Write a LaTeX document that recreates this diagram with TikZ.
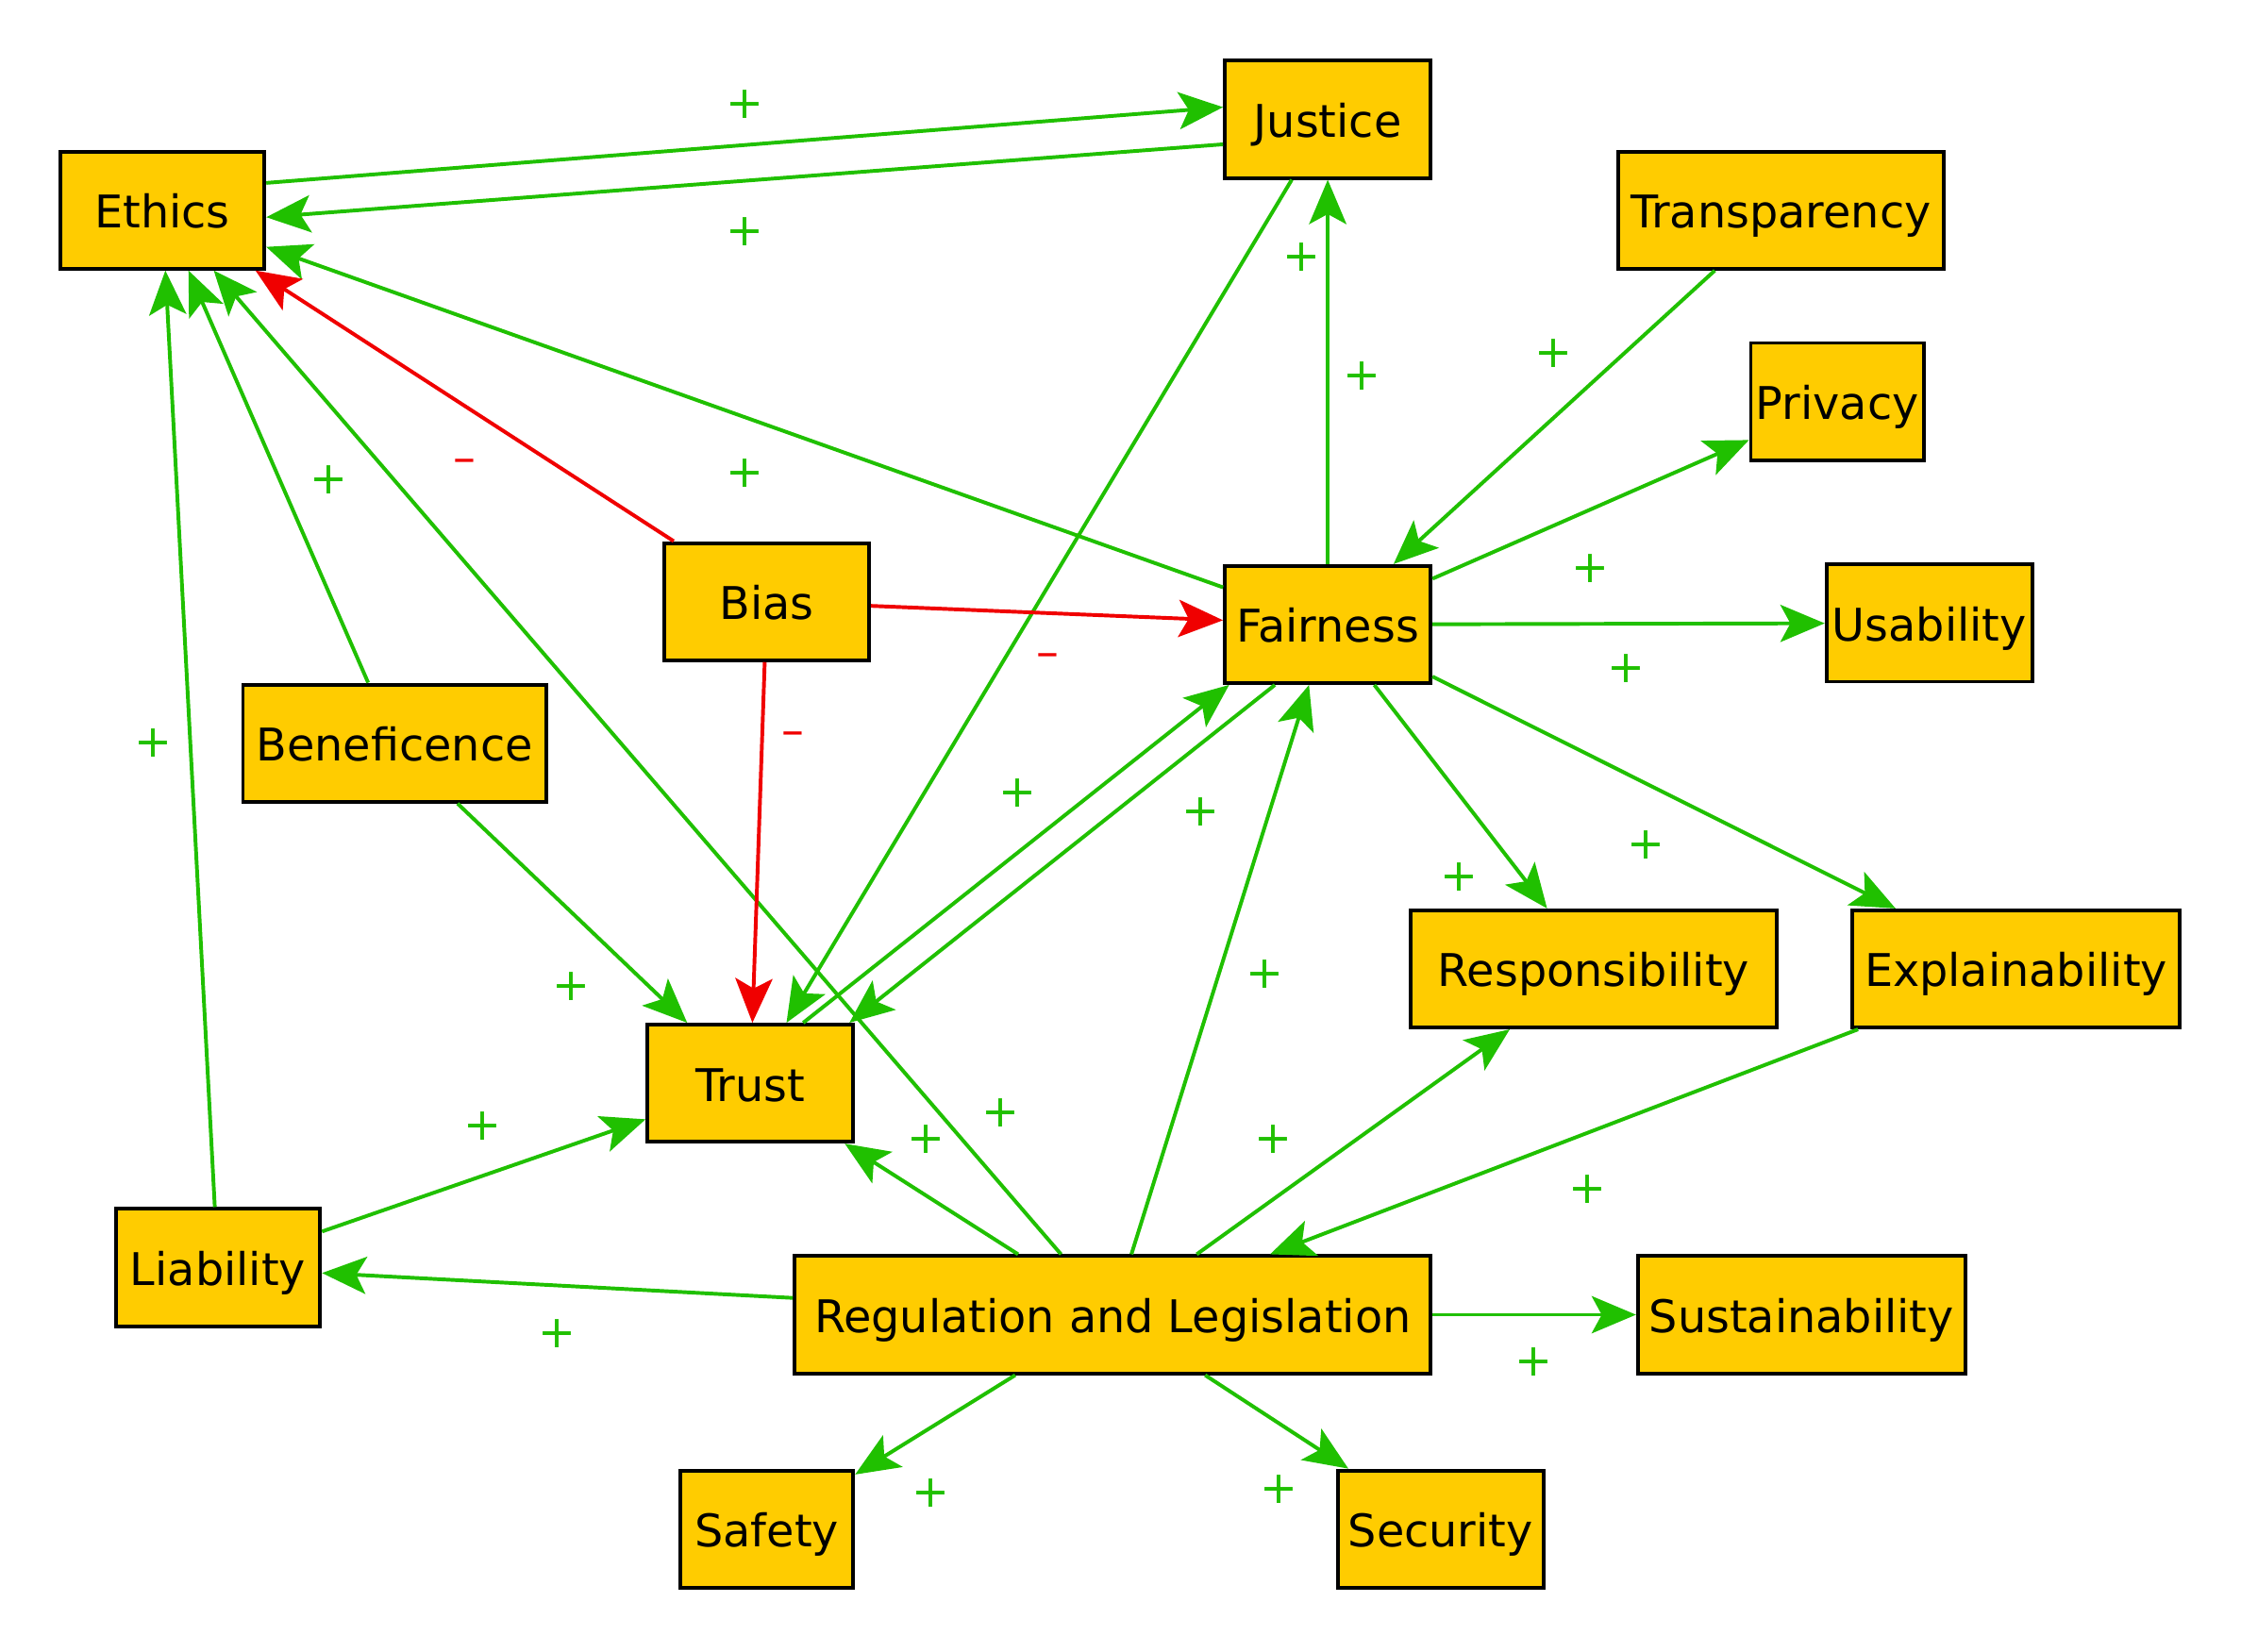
\documentclass[tikz,border=0pt]{standalone}
\usepackage{fontspec}
\setmainfont{DejaVu Sans}
\usepackage{xcolor}
\usetikzlibrary{arrows.meta}
\definecolor{boxgold}{RGB}{255,204,0}
\definecolor{posgreen}{RGB}{32,192,0}
\definecolor{negred}{RGB}{240,0,0}

\begin{document}
\begin{tikzpicture}[x=1pt,y=-1pt,
	factorbox/.style={draw=black,line width=2.6pt,fill=boxgold,minimum height=82pt,inner sep=0pt,text height=25pt,text depth=0pt,font=\fontsize{31.5}{36}\selectfont},
	posedge/.style={draw=posgreen,line width=2.6pt,-{Stealth[length=31pt,width=26pt,inset=7pt]}},
	negedge/.style={posedge,draw=negred},
	plussign/.style={text=posgreen,font=\fontsize{31.5}{36}\selectfont},
	minussign/.style={plussign,text=negred}]
		\useasboundingbox (0,0) rectangle (1568,1155.4);
		\node[factorbox,minimum width=144pt] (justice) at (929,83.5) {Justice};
		\node[factorbox,minimum width=143pt] (ethics) at (113.5,147) {Ethics};
		\node[factorbox,minimum width=228pt] (transparency) at (1246,147) {Transparency};
		\node[factorbox,minimum width=121pt] (privacy) at (1285.5,281) {Privacy};
		\node[factorbox,minimum width=143pt] (bias) at (536.5,421) {Bias};
		\node[factorbox,minimum width=144pt] (fairness) at (929,437) {Fairness};
		\node[factorbox,minimum width=144pt] (usability) at (1350,436) {Usability};
		\node[factorbox,minimum width=212pt] (beneficence) at (276,520) {Beneficence};
		\node[factorbox,minimum width=256pt] (responsibility) at (1115,678) {Responsibility};
		\node[factorbox,minimum width=229pt] (explainability) at (1410.5,678) {Explainability};
		\node[factorbox,minimum width=144pt] (trust) at (525,758) {Trust};
		\node[factorbox,minimum width=143pt] (liability) at (152.5,887) {Liability};
		\node[factorbox,minimum width=445pt] (regulation) at (778.5,920) {Regulation and Legislation};
		\node[factorbox,minimum width=229pt] (sustainability) at (1260.5,920) {Sustainability};
		\node[factorbox,minimum width=121pt] (safety) at (536.5,1070) {Safety};
		\node[factorbox,minimum width=144pt] (security) at (1008,1070) {Security};
		\draw[posedge] ([yshift=19pt]ethics.east) -- ([yshift=8.5pt]justice.west) node[plussign] at (521,73) {+};
		\draw[posedge] ([yshift=-17.5pt]justice.west) -- ([yshift=-5pt]ethics.east) node[plussign] at (521,162) {+};
		\draw[posedge] (fairness) -- (ethics) node[plussign] at (521,331) {+};
		\draw[negedge] (bias) -- (ethics) node[minussign] at (325,326) {–};
		\draw[posedge] (beneficence) -- (ethics) node[plussign] at (230,336) {+};
		\draw[posedge] (liability) -- (ethics) node[plussign] at (107,520) {+};
		\draw[posedge] (regulation) -- (ethics) node[plussign] at (700,779) {+};
		\draw[posedge] (justice) -- (trust) node[plussign] at (911,180) {+};
		\draw[posedge] (fairness) -- (justice) node[plussign] at (953,263) {+};
		\draw[posedge] (transparency) -- (fairness) node[plussign] at (1087,247) {+};
		\draw[posedge] (fairness) -- (privacy) node[plussign] at (1113,398) {+};
		\draw[posedge] (fairness) -- (usability) node[plussign] at (1138,468) {+};
		\draw[posedge] (fairness) -- (responsibility) node[plussign] at (1021,614) {+};
		\draw[posedge] (fairness) -- (explainability) node[plussign] at (1152,591) {+};
		\draw[negedge] (bias) -- (fairness) node[minussign] at (733,462) {–};
		\draw[negedge] (bias) -- (trust) node[minussign] at (555,517) {–};
		\draw[posedge] ([xshift=37pt]trust.north) -- ([xshift=-69pt]fairness.south) node[plussign] at (712,555) {+};
		\draw[posedge] ([xshift=-37pt]fairness.south) -- ([xshift=-4pt]trust.north east) node[plussign] at (840,568) {+};
		\draw[posedge] (beneficence) -- (trust) node[plussign] at (400,690) {+};
		\draw[posedge] (liability) -- (trust) node[plussign] at (338,788) {+};
		\draw[posedge] (regulation) -- (trust) node[plussign] at (648,797) {+};
		\draw[posedge] (regulation) -- (fairness) node[plussign] at (885,682) {+};
		\draw[posedge] (regulation) -- (responsibility) node[plussign] at (891,797) {+};
		\draw[posedge] (explainability) -- (regulation) node[plussign] at (1111,832) {+};
		\draw[posedge] (regulation) -- (liability) node[plussign] at (390,933) {+};
		\draw[posedge] (regulation) -- (sustainability) node[plussign] at (1073,953) {+};
		\draw[posedge] (regulation) -- (safety) node[plussign] at (651,1045) {+};
		\draw[posedge] (regulation) -- (security) node[plussign] at (895,1042) {+};
	\end{tikzpicture}
\end{document}
